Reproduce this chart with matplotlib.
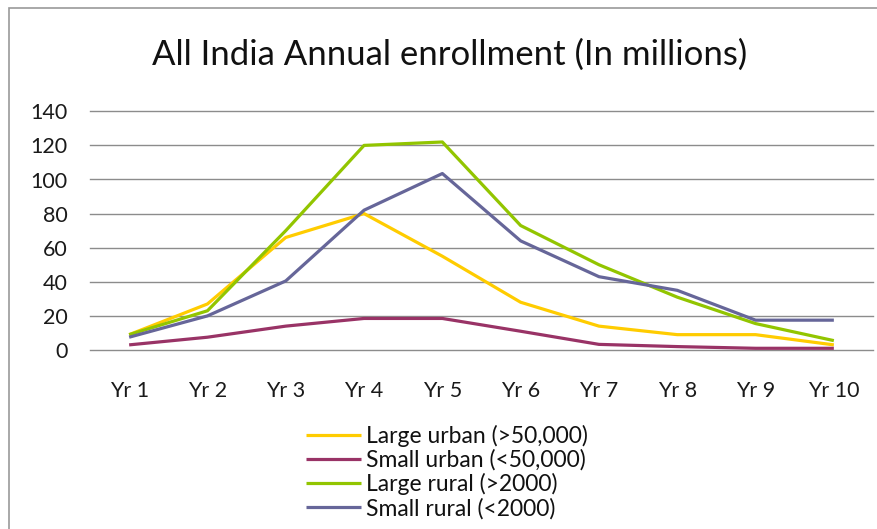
import matplotlib
matplotlib.use('Agg')
import matplotlib.pyplot as plt
from matplotlib.patches import Rectangle

years = ['Yr 1', 'Yr 2', 'Yr 3', 'Yr 4', 'Yr 5', 'Yr 6', 'Yr 7', 'Yr 8', 'Yr 9', 'Yr 10']
large_urban = [9, 27, 66, 80, 55, 28, 14, 9, 9, 3]
small_urban = [3, 7.5, 14, 18.5, 18.5, 11, 3.3, 2, 1, 1]
large_rural = [9, 23, 70, 120, 122, 73, 50, 31, 15.5, 5.5]
small_rural = [7.5, 20, 40.5, 82, 103.5, 64, 43, 35, 17.5, 17.5]
labels = ['Large urban (>50,000)', 'Small urban (<50,000)',
          'Large rural (>2000)', 'Small rural (<2000)']
colors = ['#FFCC00', '#993366', '#92C500', '#666699']

plt.rcParams['font.family'] = ['Lato', 'DejaVu Sans']

fig = plt.figure(figsize=(8.77, 5.29), dpi=100)
ax = fig.add_axes([90 / 877, 1 - 350 / 529, 783 / 877, (350 - 111.3) / 529])

x = range(len(years))
for series, lab, col in zip([large_urban, small_urban, large_rural, small_rural], labels, colors):
    ax.plot(x, series, color=col, lw=2.3, label=lab, solid_capstyle='butt')

ax.set_xlim(-0.5, len(years) - 0.5)
ax.set_ylim(0, 140)
ax.set_yticks(range(0, 141, 20))
ax.set_xticks(list(x))
ax.set_xticklabels(years)
ax.yaxis.grid(True, color='#8c8c8c', lw=1)
for gl in ax.get_ygridlines():
    gl.set_clip_on(False)
ax.set_axisbelow(True)
for s in ax.spines.values():
    s.set_visible(False)
ax.tick_params(length=0, labelsize=15.5, colors='#1a1a1a')
ax.tick_params(axis='x', pad=22)
ax.tick_params(axis='y', pad=16)

fig.text(450 / 877, 1 - 55 / 529, 'All India Annual enrollment (In millions)',
         ha='center', va='center', fontsize=25, color='#111111')

leg = fig.legend(loc='upper left', bbox_to_anchor=(306 / 877, 1 - 425 / 529),
                 frameon=False, fontsize=16.5, handlelength=2.4, handletextpad=0.2,
                 labelspacing=0.1, borderaxespad=0, borderpad=0)
for t in leg.get_texts():
    t.set_color('#111111')

fig.patches.append(Rectangle((9 / 877, -0.1), 1.2, 1 - 8 / 529 + 0.1,
                             transform=fig.transFigure, fill=False,
                             edgecolor='#999999', lw=1.2))

fig.savefig('out.png', dpi=100)
